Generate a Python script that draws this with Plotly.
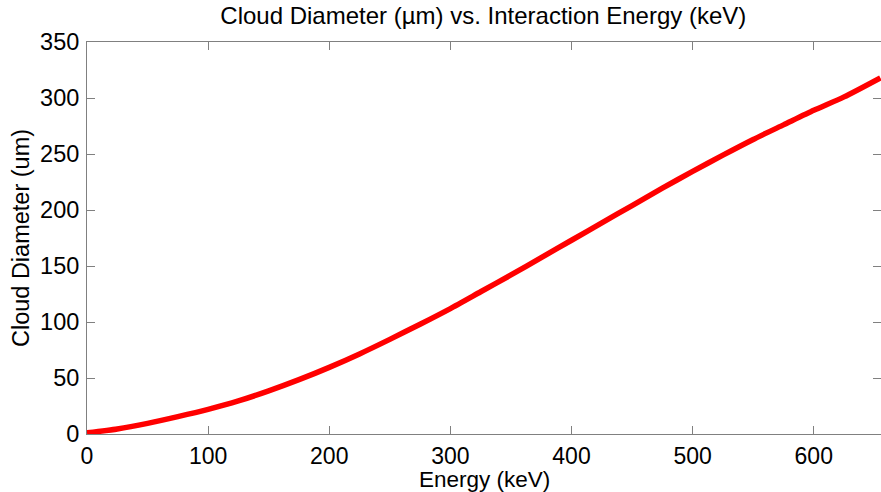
import plotly.graph_objects as go

energy_kev = [0, 25, 50, 75, 100, 125, 150, 175, 200, 225, 250, 275, 300, 325, 350,
              375, 400, 425, 450, 475, 500, 525, 550, 575, 600, 625, 655]
diameter_um = [1, 4.5, 9.5, 15.5, 22, 29.5, 38.5, 48.5, 59.5, 71.5, 84.5, 98, 112, 127, 142,
               157.5, 173, 188.5, 204, 219.5, 234.5, 249, 263, 276, 289, 301, 318]

x_ticks = [0, 100, 200, 300, 400, 500, 600]
y_ticks = [0, 50, 100, 150, 200, 250, 300, 350]

FONT = "Liberation Sans, Arial, sans-serif"
FS = 23.5

fig = go.Figure()
fig.add_trace(go.Scatter(x=energy_kev, y=diameter_um, mode="lines",
                         line=dict(color="#ff0000", width=5.5, shape="spline", smoothing=0.6),
                         hoverinfo="skip", showlegend=False))

axis_common = dict(showgrid=False, zeroline=False, showline=True, linecolor="#808080",
                   linewidth=1, mirror="ticks", ticks="inside", ticklen=8,
                   tickcolor="#808080", tickwidth=1)

fig.update_layout(
    width=881, height=492,
    margin=dict(l=87, r=0, t=42, b=58),
    paper_bgcolor="white", plot_bgcolor="white",
    title=dict(text="Cloud Diameter (\u00b5m) vs. Interaction Energy (keV)",
               font=dict(family=FONT, size=24, color="black"),
               x=0.5486, xanchor="center", y=0.985, yanchor="top"),
    xaxis=dict(range=[0, 655.5], tickvals=x_ticks,
               tickfont=dict(family=FONT, size=23, color="black"),
               ticklabelstandoff=1, **axis_common),
    yaxis=dict(range=[0, 350], tickvals=y_ticks,
               tickfont=dict(family=FONT, size=FS, color="black"),
               title=dict(text="Cloud Diameter (um)", font=dict(family=FONT, size=FS, color="black"),
                          standoff=3),
               ticklabelstandoff=2, **axis_common),
    annotations=[dict(text="Energy (keV)", xref="paper", yref="paper", x=0.5, y=-0.082,
                      xanchor="center", yanchor="top", showarrow=False, borderpad=0,
                      font=dict(family=FONT, size=22.5, color="black"))],
)

fig.write_html("out.html")
